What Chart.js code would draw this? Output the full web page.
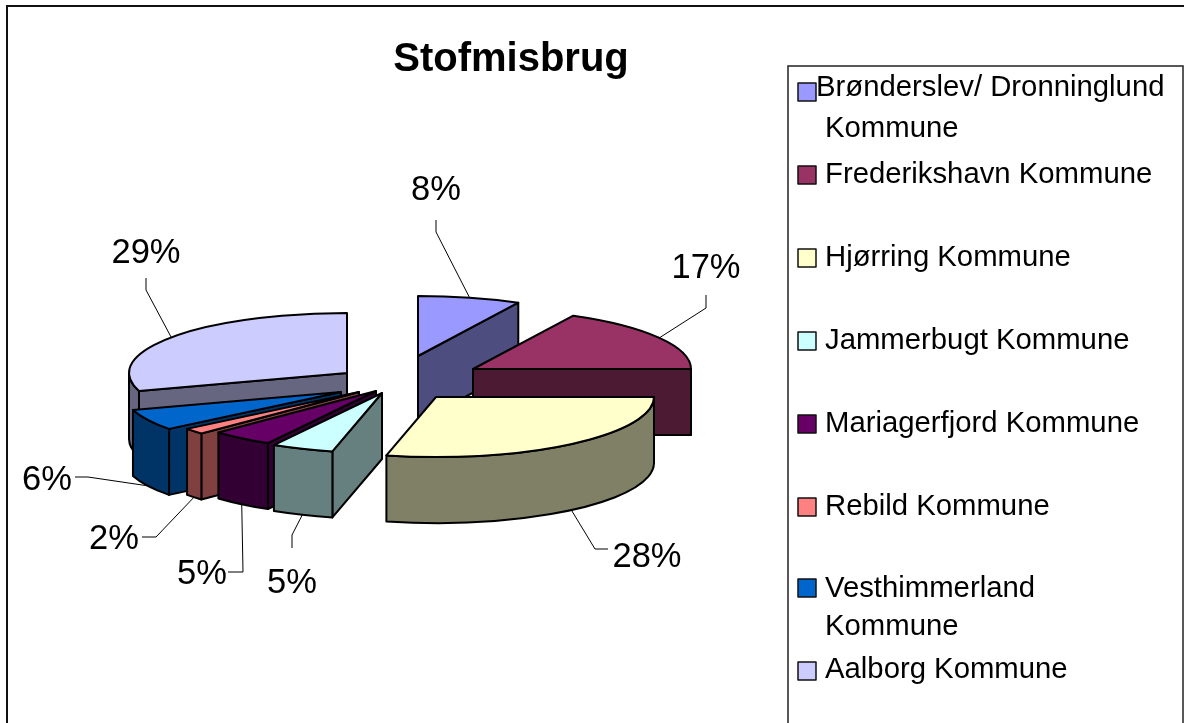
<!DOCTYPE html>
<html lang="en">
<head>
<meta charset="utf-8" />
<title>Stofmisbrug</title>
<script src="https://cdn.jsdelivr.net/npm/chart.js@4/dist/chart.umd.js"></script>
<style>
  html, body { margin: 0; padding: 0; background: #fff; overflow: hidden; }
  canvas { display: block; }
</style>
</head>
<body>
<canvas id="myChart" width="1184" height="723"></canvas>
<script>
var chartTitle = "Stofmisbrug";
var categories = [
  "Brønderslev/ Dronninglund Kommune",
  "Frederikshavn Kommune",
  "Hjørring Kommune",
  "Jammerbugt Kommune",
  "Mariagerfjord Kommune",
  "Rebild Kommune",
  "Vesthimmerland Kommune",
  "Aalborg Kommune"
];
// the labels are what the picture prints
var shares = [7.6, 17.4, 28.6, 4.6, 4.6, 1.6, 5.7, 29.8];
var percentLabels = ["8%", "17%", "28%", "5%", "5%", "2%", "6%", "29%"];
var topColors = ["#9999FF", "#993366", "#FFFFCC", "#CCFFFF", "#660066", "#FF8080", "#0066CC", "#CCCCFF"];
var wallColors = ["#4D4D80", "#4D1A33", "#808066", "#668080", "#330033", "#804040", "#003366", "#666680"];

// 3D look
var RADIUS = 218;
var SQUASH = 60 / 218;
var DEPTH = 66;
var FONT = '"Liberation Sans", Arial, sans-serif';
var pieCenter = { x: 396, y: 378 };
var explode = [[22, -22], [77, -9], [40, 19], [-14, 15], [-20, 13], [-37, 14], [-55, 14], [-49, -5]];
var drawOrder = [7, 6, 5, 4, 3, 0, 1, 2];

// label centre, then the elbow of its leader line
var labelPos = [[436, 190], [706, 268], [647, 557], [292, 583], [202, 574], [114, 539], [47, 480], [146, 253]];
var leaderEnds = [[436, 220], [706, 295], [608, 549], [292, 548], [228, 572], [142, 537], [75, 477], [146, 278]];
var leaderKnees = [[436, 232], [706, 308], [595, 549], [292, 535], [243, 572], [156, 537], [88, 477], [146, 290]];

// legend rows: wrapped text and first baseline
var legendLines = [
  ["Brønderslev/ Dronninglund", "Kommune"],
  ["Frederikshavn Kommune"],
  ["Hjørring Kommune"],
  ["Jammerbugt Kommune"],
  ["Mariagerfjord Kommune"],
  ["Rebild Kommune"],
  ["Vesthimmerland", "Kommune"],
  ["Aalborg Kommune"]
];
var legendBaselines = [96, 183, 266, 349, 432, 515, 597, 678];
var legendSwatchTops = [83, 166, 249, 332, 415, 498, 579, 662];

function apexOf(i) {
  return { x: pieCenter.x + explode[i][0], y: pieCenter.y + explode[i][1] };
}

function rimPoint(apex, t) {
  return { x: apex.x + RADIUS * Math.cos(t), y: apex.y + RADIUS * SQUASH * Math.sin(t) };
}

function paintPath(ctx, fill, build) {
  ctx.beginPath();
  build();
  ctx.closePath();
  if (fill) {
    ctx.fillStyle = fill;
    ctx.fill();
  }
  ctx.lineWidth = 2;
  ctx.strokeStyle = "#000";
  ctx.lineJoin = "round";
  ctx.stroke();
}

function drawRadialWall(ctx, apex, t, color) {
  var p = rimPoint(apex, t);
  paintPath(ctx, color, function () {
    ctx.moveTo(apex.x, apex.y);
    ctx.lineTo(p.x, p.y);
    ctx.lineTo(p.x, p.y + DEPTH);
    ctx.lineTo(apex.x, apex.y + DEPTH);
  });
}

function drawSlice(ctx, arc, i) {
  var apex = apexOf(i);
  var t1 = arc.startAngle;
  var t2 = arc.endAngle;
  var a = RADIUS;
  var b = RADIUS * SQUASH;

  // only the faces that look at the viewer
  if (Math.cos(t1) < -0.001) drawRadialWall(ctx, apex, t1, wallColors[i]);
  if (Math.cos(t2) > 0.001) drawRadialWall(ctx, apex, t2, wallColors[i]);

  var from = Math.max(t1, 0);
  var to = Math.min(t2, Math.PI);
  if (to > from) {
    paintPath(ctx, wallColors[i], function () {
      ctx.ellipse(apex.x, apex.y, a, b, 0, from, to);
      ctx.ellipse(apex.x, apex.y + DEPTH, a, b, 0, to, from, true);
    });
  }

  // the top face is the library's own arc, squashed
  ctx.save();
  ctx.translate(apex.x, apex.y);
  ctx.scale(1, SQUASH);
  ctx.translate(-arc.x, -arc.y);
  arc.draw(ctx);
  ctx.restore();

  paintPath(ctx, null, function () {
    ctx.moveTo(apex.x, apex.y);
    ctx.ellipse(apex.x, apex.y, a, b, 0, t1, t2);
  });
}

var pie3d = {
  id: "pie3d",
  beforeDraw: function (chart) {
    var ctx = chart.ctx;
    ctx.save();
    ctx.strokeStyle = "#111";
    ctx.lineWidth = 2;
    ctx.strokeRect(7, 6, 1400, 1000);
    ctx.lineWidth = 1.5;
    ctx.strokeStyle = "#222";
    ctx.strokeRect(788, 66, 395, 800);
    ctx.restore();
  },
  beforeDatasetDraw: function (chart) {
    var ctx = chart.ctx;
    var arcs = chart.getDatasetMeta(0).data;
    drawOrder.forEach(function (i) {
      drawSlice(ctx, arcs[i], i);
    });
    return false;
  },
  afterDraw: function (chart) {
    var ctx = chart.ctx;
    var arcs = chart.getDatasetMeta(0).data;
    ctx.save();

    // leader lines and percent labels
    arcs.forEach(function (arc, i) {
      var mid = (arc.startAngle + arc.endAngle) / 2;
      var p = rimPoint(apexOf(i), mid);
      var y = Math.sin(mid) > 0 ? p.y + DEPTH : p.y;
      ctx.beginPath();
      ctx.moveTo(p.x, y);
      ctx.lineTo(leaderKnees[i][0], leaderKnees[i][1]);
      ctx.lineTo(leaderEnds[i][0], leaderEnds[i][1]);
      ctx.lineWidth = 1;
      ctx.strokeStyle = "#000";
      ctx.stroke();

      ctx.fillStyle = "#000";
      ctx.font = "34.5px " + FONT;
      ctx.textAlign = "center";
      ctx.textBaseline = "middle";
      ctx.fillText(percentLabels[i], labelPos[i][0], labelPos[i][1]);
    });

    // legend
    ctx.font = "29.3px " + FONT;
    ctx.textAlign = "left";
    ctx.textBaseline = "alphabetic";
    categories.forEach(function (name, i) {
      ctx.fillStyle = topColors[i];
      ctx.fillRect(798, legendSwatchTops[i], 18, 18);
      ctx.lineWidth = 1.5;
      ctx.strokeStyle = "#111";
      ctx.strokeRect(798, legendSwatchTops[i], 18, 18);
      ctx.fillStyle = "#000";
      legendLines[i].forEach(function (line, k) {
        var x = (i === 0 && k === 0) ? 816 : 825;
        var lineGap = i === 0 ? 41 : 38;
        ctx.fillText(line, x, legendBaselines[i] + k * lineGap);
      });
    });
    ctx.restore();
  }
};

var myChart = new Chart(document.getElementById("myChart").getContext("2d"), {
  type: "pie",
  data: {
    labels: categories,
    datasets: [{
      data: shares,
      backgroundColor: topColors,
      borderWidth: 0,
      radius: RADIUS
    }]
  },
  options: {
    responsive: false,
    animation: false,
    layout: { padding: { right: 162 } },
    plugins: {
      legend: { display: false },
      tooltip: { enabled: false },
      title: {
        display: true,
        text: chartTitle,
        fullSize: false,
        color: "#000",
        font: { family: FONT, size: 40, weight: "bold" },
        padding: { top: 36, bottom: 0 }
      }
    }
  },
  plugins: [pie3d]
});
</script>
</body>
</html>
